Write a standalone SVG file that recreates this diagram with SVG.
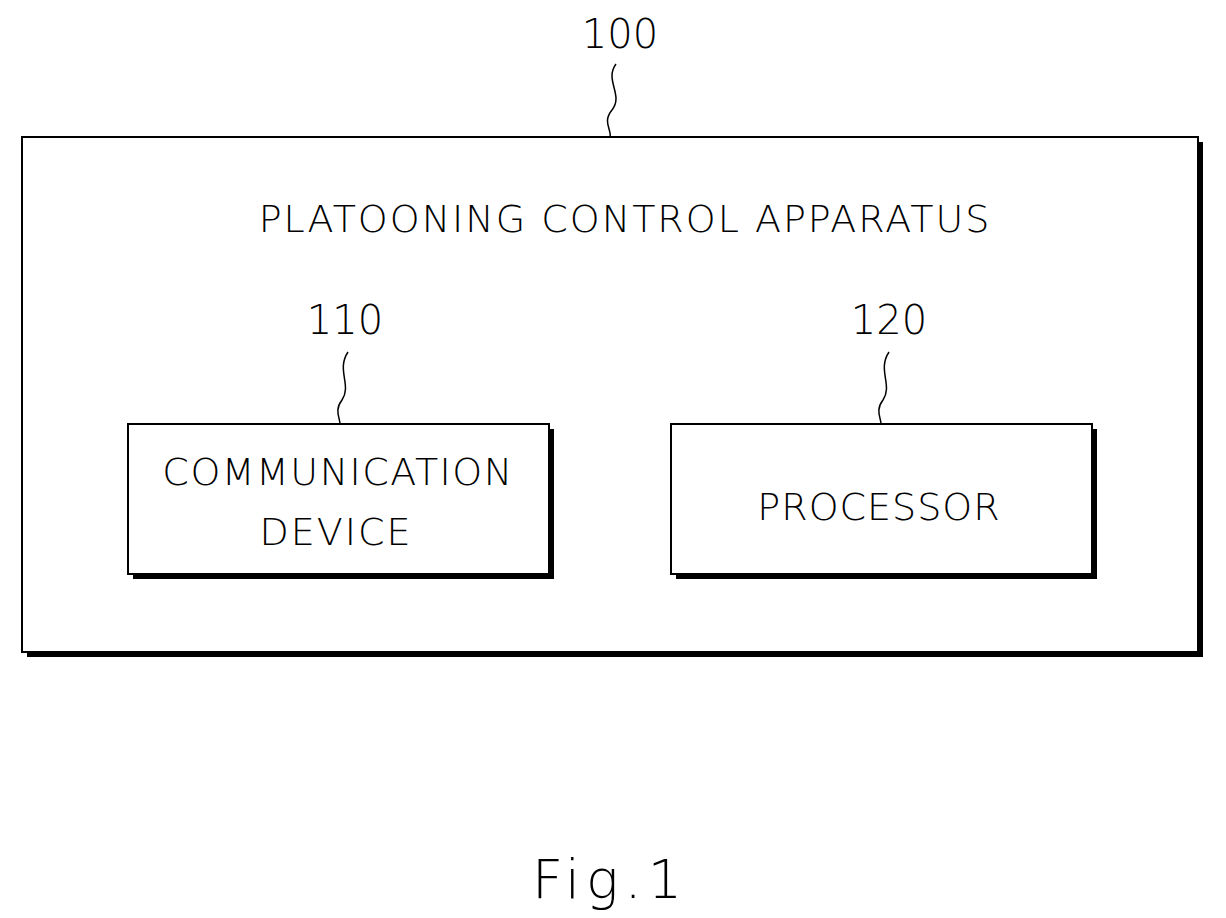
<svg xmlns="http://www.w3.org/2000/svg" width="1226" height="918" viewBox="0 0 1226 918">
<style>
.box{fill:#fff;stroke:#000;stroke-width:2}
.sh{fill:#000}
.t{font-family:"DejaVu Sans",sans-serif;font-weight:300;fill:#000;text-anchor:middle}
.lead{fill:none;stroke:#000;stroke-width:1.5}
</style>
<rect width="1226" height="918" fill="#fff"/>
<g id="n100">
<rect class="sh" x="27" y="142" width="1176" height="515"/>
<rect class="box" x="22" y="137" width="1176" height="515"/>
<text class="t" x="625" y="232" font-size="38" letter-spacing="2">PLATOONING CONTROL APPARATUS</text>
</g>
<g id="n110">
<rect class="sh" x="133" y="429" width="421" height="150"/>
<rect class="box" x="128" y="424" width="421" height="150"/>
<text class="t" x="338" y="485" font-size="38" letter-spacing="1.5">COMMUNICATION</text>
<text class="t" x="336" y="545" font-size="38" letter-spacing="2">DEVICE</text>
</g>
<g id="n120">
<rect class="sh" x="676" y="429" width="421" height="150"/>
<rect class="box" x="671" y="424" width="421" height="150"/>
<text class="t" x="879" y="520" font-size="38" letter-spacing="1">PROCESSOR</text>
</g>
<g id="labels">
<text class="t" x="620" y="48" font-size="40">100</text>
<text class="t" x="345" y="334" font-size="40">110</text>
<text class="t" x="889" y="334" font-size="40">120</text>
<text class="t" x="610" y="898" font-size="54" letter-spacing="6">Fig.1</text>
</g>
<g id="connectors">
<path class="lead" d="M616 64 C604 80,624 95,612 110 C602 122,612 130,610 137"/>
<path class="lead" d="M348 352 C336 370,352 385,342 400 C334 410,340 418,340 424"/>
<path class="lead" d="M889 352 C877 370,893 385,883 400 C875 410,881 418,881 424"/>
</g>
</svg>
